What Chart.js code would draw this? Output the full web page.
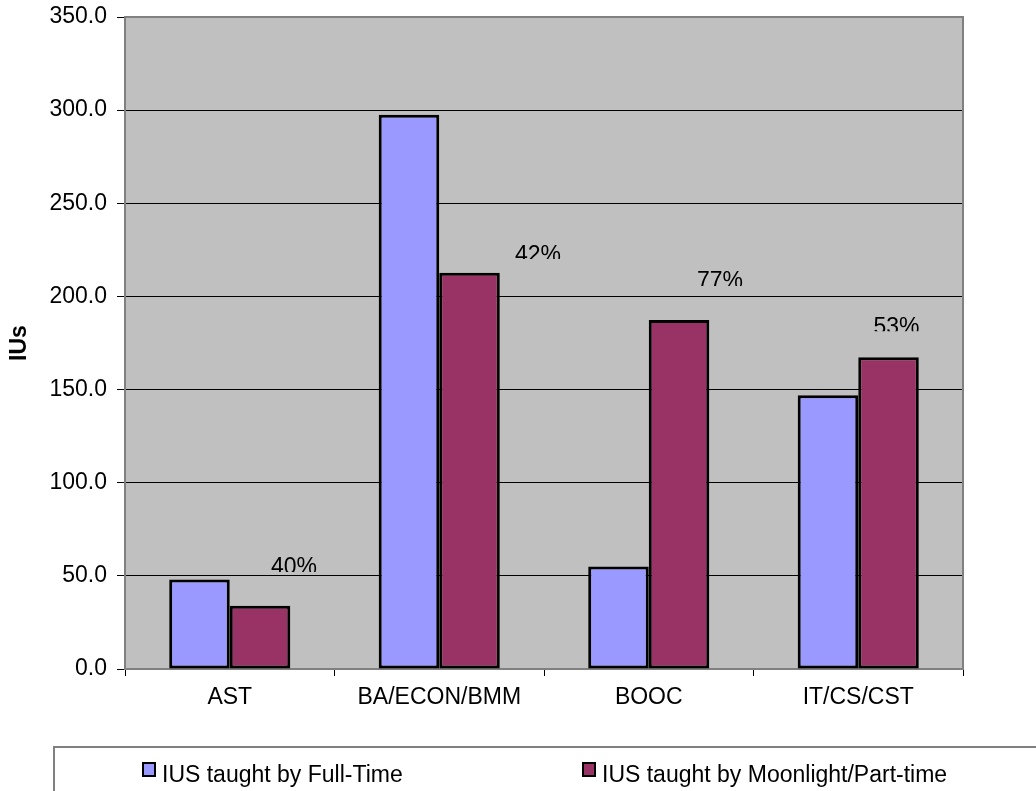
<!DOCTYPE html>
<html>
<head>
<meta charset="utf-8">
<script src="https://cdn.jsdelivr.net/npm/chart.js@4/dist/chart.umd.min.js"></script>
<style>
  html, body { margin: 0; padding: 0; background: #fff; }
  #chart { display: block; }
</style>
</head>
<body>
<canvas id="chart" width="1036" height="791"></canvas>
<script>
// chart data
const categories = ['AST', 'BA/ECON/BMM', 'BOOC', 'IT/CS/CST'];
const fullTime = [48, 297.5, 55, 147];
const partTime = [34, 212.7, 187.4, 167.3];
const shareLabels = ['40%', '42%', '77%', '53%'];
const seriesNames = ['IUS taught by Full-Time', 'IUS taught by Moonlight/Part-time'];

const FONT = 'Arial, "Liberation Sans", sans-serif';

// gray plot area, border, share labels and the boxed legend
const excelFrame = {
    id: 'excelFrame',
    beforeDraw(chart) {
        const { ctx, chartArea: a } = chart;
        ctx.save();
        ctx.fillStyle = '#fff';
        ctx.fillRect(0, 0, chart.width, chart.height);
        ctx.fillStyle = '#c0c0c0';
        ctx.fillRect(a.left, a.top, a.right - a.left, a.bottom - a.top);
        ctx.restore();
    },
    beforeDatasetsDraw(chart) {
        const { ctx, chartArea: a } = chart;
        ctx.save();
        ctx.strokeStyle = '#808080';
        ctx.lineWidth = 2;
        ctx.strokeRect(a.left, a.top, a.right - a.left, a.bottom - a.top);
        ctx.restore();
    },
    afterDraw(chart, args, opts) {
        const { ctx } = chart;
        const bars = chart.getDatasetMeta(1).data;

        // percentage labels, cut off at the bottom like in the original
        ctx.save();
        ctx.font = '23px ' + FONT;
        ctx.fillStyle = '#000';
        ctx.textAlign = 'center';
        ctx.textBaseline = 'alphabetic';
        shareLabels.forEach((txt, i) => {
            const [dx, dy] = opts.labelOffsets[i];
            const x = bars[i].x + dx;
            const capTop = bars[i].y + dy;
            ctx.save();
            ctx.beginPath();
            ctx.rect(x - 40, capTop - 8, 80, 22);
            ctx.clip();
            ctx.fillText(txt, x, capTop + 16.5);
            ctx.restore();
        });
        ctx.restore();

        // legend box
        ctx.save();
        ctx.strokeStyle = '#808080';
        ctx.lineWidth = 2;
        ctx.strokeRect(54, 747, 1100, 100);
        ctx.font = '23px ' + FONT;
        ctx.textBaseline = 'alphabetic';
        ctx.textAlign = 'left';
        chart.data.datasets.forEach((ds, i) => {
            const sx = opts.legendX[i];
            ctx.fillStyle = ds.backgroundColor;
            ctx.fillRect(sx, 762, 14, 15);
            ctx.strokeStyle = '#000';
            ctx.lineWidth = 2;
            ctx.strokeRect(sx + 1, 763, 12, 13);
            ctx.fillStyle = '#000';
            ctx.fillText(ds.label, sx + 20, 782);
        });
        ctx.restore();
    }
};

new Chart(document.getElementById('chart'), {
    type: 'bar',
    data: {
        labels: categories,
        datasets: [
            {
                label: seriesNames[0],
                data: fullTime,
                backgroundColor: '#9999ff',
                borderColor: '#000',
                borderWidth: 3,
                borderSkipped: false
            },
            {
                label: seriesNames[1],
                data: partTime,
                backgroundColor: '#993366',
                borderColor: '#000',
                borderWidth: 3,
                borderSkipped: false
            }
        ]
    },
    options: {
        responsive: false,
        animation: false,
        devicePixelRatio: 1,
        categoryPercentage: 0.578,
        barPercentage: 1,
        layout: { padding: { top: 17, right: 73, left: 0, bottom: 0 } },
        plugins: {
            legend: { display: false },
            tooltip: { enabled: false },
            excelFrame: {
                labelOffsets: [[34, -47.7], [68.5, -27.7], [41, -48], [8, -40]],
                legendX: [142, 582]
            }
        },
        scales: {
            x: {
                grid: {
                    drawOnChartArea: false,
                    offset: true,
                    tickLength: 7,
                    tickColor: '#000',
                    lineWidth: 1
                },
                border: { display: false },
                ticks: {
                    color: '#000',
                    font: { family: FONT, size: 23 },
                    padding: 8,
                    maxRotation: 0
                },
                afterFit(s) { s.height = 122; s.paddingLeft = 0; s.paddingRight = 0; }
            },
            y: {
                min: 0,
                max: 350,
                grid: {
                    color: '#000',
                    tickColor: '#000',
                    tickLength: 8,
                    lineWidth: 1
                },
                border: { display: false },
                ticks: {
                    stepSize: 50,
                    color: '#000',
                    font: { family: FONT, size: 23 },
                    padding: 10,
                    callback: v => v.toFixed(1)
                },
                title: {
                    display: true,
                    text: 'IUs',
                    color: '#000',
                    font: { family: FONT, size: 23, weight: 'bold' },
                    padding: { top: 6, bottom: 0 }
                },
                afterFit(s) { s.width = 125; s.paddingTop = 0; s.paddingBottom = 0; }
            }
        }
    },
    plugins: [excelFrame]
});
</script>
</body>
</html>
